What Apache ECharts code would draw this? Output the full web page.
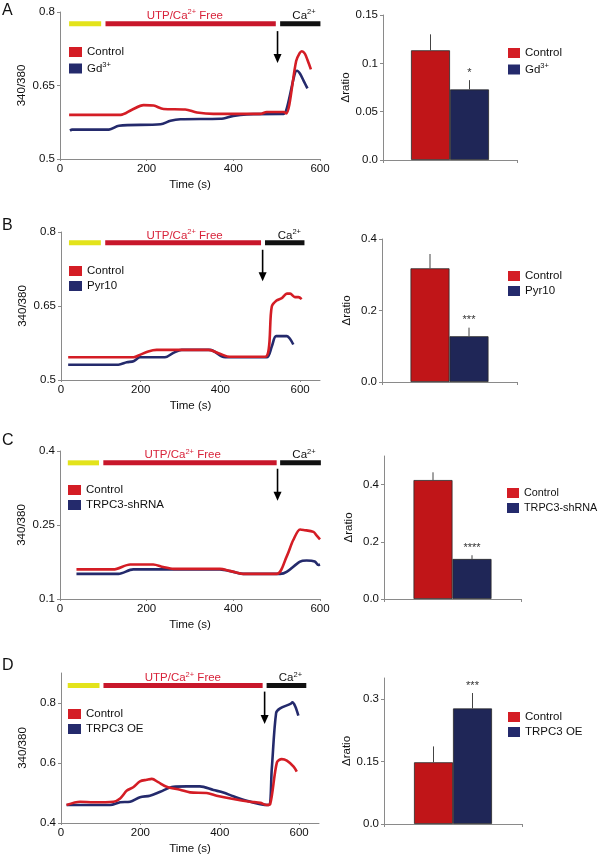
<!DOCTYPE html>
<html><head><meta charset="utf-8">
<script src="https://cdn.jsdelivr.net/npm/echarts@6/dist/echarts.min.js"></script>
<style>html,body{margin:0;padding:0;background:#fff}#c{width:600px;height:856px}</style>
</head><body><div id="c"></div>
<script>
// ---------- DATA ----------
const timeTicks = [0, 200, 400, 600];
const panelLetters = ['A', 'B', 'C', 'D'];
const treatNames = ['Gd3+', 'Pyr10', 'TRPC3-shRNA', 'TRPC3 OE'];

// traces [time (s), 340/380 ratio]
const aControl = [[21,0.590],[140,0.590],[165,0.600],[193,0.610],[216,0.609],[239,0.602],[289,0.601],[316,0.595],[354,0.592],[400,0.592],[462,0.592],[477,0.596],[516,0.596],[522,0.593],[545,0.700],[553,0.716],[558,0.720],[565,0.715],[572,0.700],[579,0.683]];
const aGd = [[23,0.558],[28,0.560],[113,0.560],[136,0.568],[232,0.571],[255,0.578],[278,0.581],[370,0.582],[400,0.588],[431,0.591],[512,0.592],[516,0.592],[543,0.678],[547,0.680],[554,0.674],[562,0.660],[571,0.644]];
const bControl = [[18,0.546],[182,0.546],[198,0.551],[219,0.558],[240,0.561],[370,0.561],[399,0.553],[424,0.547],[512,0.547],[529,0.649],[541,0.661],[554,0.666],[567,0.675],[575,0.675],[587,0.668],[596,0.668],[604,0.664]];
const bPyr = [[18,0.531],[144,0.531],[165,0.536],[182,0.538],[198,0.546],[261,0.546],[282,0.555],[303,0.561],[374,0.561],[403,0.548],[412,0.546],[516,0.546],[529,0.568],[540,0.589],[567,0.589],[575,0.583],[583,0.572]];
const cControl = [[38,0.160],[123,0.160],[162,0.170],[215,0.170],[238,0.165],[262,0.161],[369,0.161],[392,0.157],[423,0.151],[500,0.151],[523,0.186],[538,0.219],[554,0.241],[562,0.240],[585,0.236],[592,0.229],[600,0.221]];
const cShRNA = [[38,0.151],[135,0.151],[169,0.160],[369,0.160],[400,0.155],[423,0.151],[508,0.151],[523,0.155],[554,0.176],[569,0.178],[588,0.176],[596,0.169],[600,0.170]];
const dControl = [[14,0.460],[48,0.471],[82,0.469],[132,0.471],[149,0.482],[166,0.508],[182,0.519],[199,0.539],[216,0.544],[229,0.547],[245,0.536],[266,0.521],[300,0.511],[325,0.502],[367,0.500],[392,0.491],[434,0.480],[476,0.471],[502,0.467],[518,0.460],[527,0.463],[544,0.602],[556,0.613],[569,0.608],[586,0.588],[594,0.571]];
const dOE = [[14,0.460],[124,0.460],[149,0.469],[174,0.471],[199,0.486],[224,0.491],[250,0.504],[283,0.521],[317,0.522],[350,0.522],[384,0.510],[409,0.502],[434,0.489],[468,0.474],[502,0.463],[523,0.460],[531,0.580],[542,0.767],[552,0.782],[578,0.797],[583,0.802],[590,0.789],[598,0.758]];

// protocol segments [start s, end s, level] : baseline, UTP/Ca2+ free, Ca2+
const protoA = [[21,95,0.776],[105,498,0.776],[508,601,0.776]];
const protoB = [[20,100,0.778],[111,502,0.778],[512,611,0.778]];
const protoC = [[18,90,0.376],[100,500,0.376],[508,602,0.376]];
const protoD = [[17,97,0.858],[107,508,0.858],[518,618,0.858]];
// label anchors [time, level] : "UTP/Ca2+ Free", "Ca2+"
const labelPosA = [[288,0.792],[563,0.792]];
const labelPosB = [[310,0.793],[573,0.793]];
const labelPosC = [[283,0.392],[563,0.392]];
const labelPosD = [[307,0.883],[578,0.883]];
// arrow [time, from level, to level]
const arrowA = [[502,0.761,0.696]];
const arrowB = [[506,0.764,0.700]];
const arrowC = [[502,0.364,0.299]];
const arrowD = [[513,0.838,0.730]];

// y ticks of trace panels
const yTicksA = [0.5,0.65,0.8], yTicksB = [0.5,0.65,0.8], yTicksC = [0.1,0.25,0.4], yTicksD = [0.4,0.6,0.8];

// bar charts: Δratio mean and SEM [Control, treatment]
const barMeanA = [0.1135, 0.073], barErrA = [0.0165, 0.0096];
const barMeanB = [0.318, 0.128], barErrB = [0.040, 0.024];
const barMeanC = [0.416, 0.140], barErrC = [0.027, 0.013];
const barMeanD = [0.148, 0.277], barErrD = [0.038, 0.037];
const sigMarks = ['*', '***', '****', '***'];
const barTicksA = [0, 0.05, 0.1, 0.15], barTicksB = [0, 0.2, 0.4], barTicksC = [0, 0.2, 0.4], barTicksD = [0, 0.15, 0.3];

// ---------- STYLE / LAYOUT ----------
const FONT = 'Liberation Sans, Arial, Helvetica, sans-serif';
const FS = 11.5;
const RED_LINE = '#d41d25', BLUE_LINE = '#242a6c';
const RED_BAR = '#c01518', BLUE_BAR = '#1f2657';
const PROTO_COLORS = ['#e3e31b', '#c8172b', '#111111'];
const AXIS_COL = '#8a8a8a';
const BAR_W = 39;

const traces = [[aControl, aGd], [bControl, bPyr], [cControl, cShRNA], [dControl, dOE]];
const protos = [protoA, protoB, protoC, protoD];
const labelPos = [labelPosA, labelPosB, labelPosC, labelPosD];
const arrows = [arrowA, arrowB, arrowC, arrowD];
const yTicks = [yTicksA, yTicksB, yTicksC, yTicksD];
const yRange = [[0.5,0.8],[0.5,0.8],[0.1,0.4],[0.4,0.9]];
const xMax = [600, 650, 600, 650];
const barMeans = [barMeanA, barMeanB, barMeanC, barMeanD];
const barErrs = [barErrA, barErrB, barErrC, barErrD];
const barTicks = [barTicksA, barTicksB, barTicksC, barTicksD];
const barMax = [0.15, 0.4, 0.5, 0.35];

const lineGrids = [
  {left:60, top:12, width:260, height:147},
  {left:61, top:232, width:259, height:148},
  {left:60, top:451, width:260, height:148},
  {left:61, top:673, width:258, height:151}
];
const barGrids = [
  {left:383, top:15, width:134, height:145},
  {left:382, top:239, width:135, height:143},
  {left:384, top:456, width:137, height:143},
  {left:384, top:678, width:138, height:146}
];
const lineLegendPos = [[69,46],[69,265],[68,484],[68,708]];
const barLegendPos = [[508,47],[508,270],[507,487],[508,711]];
const letterPos = [[2,3],[2,218],[2,433],[2,658]];

function richFor(fs) {
  return {
    n: {fontFamily: FONT, fontSize: fs},
    s: {fontFamily: FONT, fontSize: 7.5, padding: [0,0,7,0]}
  };
}
function fmtName(name) {
  if (name === 'Gd3+') return '{n|Gd}{s|3+}';
  return '{n|' + name + '}';
}
function fmtNum(v) { return v === 0 ? '0.0' : String(+v.toFixed(3)); }

const grids = [], xAxes = [], yAxes = [], series = [], legends = [], graphics = [];

for (let p = 0; p < 4; p++) {
  // ---------- trace panel ----------
  const gi = grids.length;
  grids.push(Object.assign({containLabel:false}, lineGrids[p]));
  xAxes.push({
    type:'value', gridIndex:gi, min:0, max:xMax[p],
    name:'Time (s)', nameLocation:'middle', nameGap:20,
    nameTextStyle:{fontFamily:FONT, fontSize:FS, color:'#111'},
    axisLine:{show:true, lineStyle:{color:AXIS_COL, width:1}},
    axisTick:{show:true, length:2, lineStyle:{color:AXIS_COL}, customValues:timeTicks},
    axisLabel:{fontFamily:FONT, fontSize:FS, color:'#111', margin:4, customValues:timeTicks},
    splitLine:{show:false}
  });
  yAxes.push({
    type:'value', gridIndex:gi, min:yRange[p][0], max:yRange[p][1],
    name:'340/380', nameLocation:'middle', nameGap:32, nameRotate:90,
    nameTextStyle:{fontFamily:FONT, fontSize:FS, color:'#111'},
    axisLine:{show:true, lineStyle:{color:AXIS_COL, width:1}},
    axisTick:{show:true, length:3, lineStyle:{color:AXIS_COL}, customValues:yTicks[p]},
    axisLabel:{fontFamily:FONT, fontSize:FS, color:'#111', margin:5, customValues:yTicks[p], formatter:fmtNum},
    splitLine:{show:false}
  });
  const names = ['Control', treatNames[p]];
  const lineCols = [RED_LINE, BLUE_LINE];
  [1, 0].forEach(k => {
    series.push({
      type:'line', name:names[k], xAxisIndex:gi, yAxisIndex:gi,
      data:traces[p][k], showSymbol:false, symbol:'none', smooth:0.3,
      color:lineCols[k], itemStyle:{color:lineCols[k]},
      lineStyle:{color:lineCols[k], width:2.6}, z:3, animation:false
    });
  });
  // protocol segments
  series.push({
    type:'custom', xAxisIndex:gi, yAxisIndex:gi, data:protos[p], clip:false, silent:true,
    encode:{x:[0,1], y:2}, animation:false,
    renderItem:function(params, api){
      const a = api.coord([api.value(0), api.value(2)]);
      const b = api.coord([api.value(1), api.value(2)]);
      return {type:'rect', shape:{x:a[0], y:a[1]-2.5, width:b[0]-a[0], height:5},
              style:{fill:PROTO_COLORS[params.dataIndex]}};
    }
  });
  // protocol labels
  series.push({
    type:'custom', xAxisIndex:gi, yAxisIndex:gi, data:labelPos[p], clip:false, silent:true,
    encode:{x:0, y:1}, animation:false,
    renderItem:function(params, api){
      const c = api.coord([api.value(0), api.value(1)]);
      const isFree = params.dataIndex === 0;
      const col = isFree ? '#d8233a' : '#111';
      return {type:'text', x:c[0], y:c[1], style:{
        text: isFree ? '{n|UTP/Ca}{s|2+}{n| Free}' : '{n|Ca}{s|2+}',
        rich:{n:{fontFamily:FONT, fontSize:FS, fill:col, color:col},
              s:{fontFamily:FONT, fontSize:7.5, fill:col, color:col, padding:[0,0,7,0]}},
        align:'center', verticalAlign:'middle', fill:col
      }};
    }
  });
  // arrow
  series.push({
    type:'custom', xAxisIndex:gi, yAxisIndex:gi, data:arrows[p], clip:false, silent:true,
    encode:{x:0, y:[1,2]}, animation:false,
    renderItem:function(params, api){
      const a = api.coord([api.value(0), api.value(1)]);
      const b = api.coord([api.value(0), api.value(2)]);
      return {type:'group', children:[
        {type:'line', shape:{x1:a[0], y1:a[1], x2:b[0], y2:b[1]-6}, style:{stroke:'#000', lineWidth:1.6}},
        {type:'polygon', shape:{points:[[b[0]-4,b[1]-9],[b[0]+4,b[1]-9],[b[0],b[1]]]}, style:{fill:'#000'}}
      ]};
    }
  });
  legends.push({
    orient:'vertical', left:lineLegendPos[p][0], top:lineLegendPos[p][1], padding:0,
    itemWidth:13, itemHeight:10, itemGap:3, icon:'rect', selectedMode:false,
    data:names, formatter:fmtName,
    textStyle:{fontFamily:FONT, fontSize:FS, color:'#111', lineHeight:12, rich:richFor(FS)}
  });

  // ---------- bar panel ----------
  const bi = grids.length;
  grids.push(Object.assign({containLabel:false}, barGrids[p]));
  xAxes.push({
    type:'category', gridIndex:bi, data:[''],
    axisLine:{show:true, lineStyle:{color:AXIS_COL, width:1}},
    axisTick:{show:true, length:3, lineStyle:{color:AXIS_COL}},
    axisLabel:{show:false}
  });
  yAxes.push({
    type:'value', gridIndex:bi, min:0, max:barMax[p],
    name:'Δratio', nameLocation:'middle', nameGap:29, nameRotate:90,
    nameTextStyle:{fontFamily:FONT, fontSize:FS, color:'#111'},
    axisLine:{show:true, lineStyle:{color:AXIS_COL, width:1}},
    axisTick:{show:true, length:3, lineStyle:{color:AXIS_COL}, customValues:barTicks[p]},
    axisLabel:{fontFamily:FONT, fontSize:FS, color:'#111', margin:5, customValues:barTicks[p], formatter:fmtNum},
    splitLine:{show:false}
  });
  const barCols = [RED_BAR, BLUE_BAR];
  [0, 1].forEach(k => {
    series.push({
      type:'bar', name:names[k], xAxisIndex:bi, yAxisIndex:bi,
      data:[barMeans[p][k]], barWidth:BAR_W, barGap:'0%',
      color:barCols[k],
      itemStyle:{color:barCols[k], borderColor:'#2a2a2a', borderWidth:0.8},
      animation:false
    });
  });
  const errData = barMeans[p].map((m, k) => [0, m, barErrs[p][k]]);
  const sig = sigMarks[p];
  series.push({
    type:'custom', xAxisIndex:bi, yAxisIndex:bi, data:errData, clip:false, silent:true,
    encode:{x:0, y:1}, animation:false, z:5,
    renderItem:function(params, api){
      const base = api.coord([0, api.value(1)]);
      const top = api.coord([0, api.value(1) + api.value(2)]);
      const side = params.dataIndex === 0 ? -1 : 1;
      const x = base[0] + side * BAR_W / 2;
      const ch = [{type:'line', shape:{x1:x, y1:base[1], x2:x, y2:top[1]}, style:{stroke:'#444', lineWidth:1}}];
      if (params.dataIndex === 1) {
        ch.push({type:'text', x:x, y:top[1]-2, style:{text:sig, fontFamily:FONT, fontSize:11, fill:'#333', align:'center', verticalAlign:'bottom'}});
      }
      return {type:'group', children:ch};
    }
  });
  const lfs = treatNames[p].length > 9 ? 10.8 : FS;
  legends.push({
    orient:'vertical', left:barLegendPos[p][0], top:barLegendPos[p][1], padding:0,
    itemWidth:12, itemHeight:10, itemGap:3, icon:'rect', selectedMode:false,
    data:names, formatter:fmtName,
    textStyle:{fontFamily:FONT, fontSize:lfs, color:'#111', lineHeight:12, rich:richFor(lfs)}
  });

  graphics.push({type:'text', left:letterPos[p][0], top:letterPos[p][1],
    style:{text:panelLetters[p], fontFamily:FONT, fontSize:16, fill:'#111'}});
}

const chart = echarts.init(document.getElementById('c'), null, {renderer:'canvas'});
chart.setOption({
  animation:false,
  backgroundColor:'#fff',
  textStyle:{fontFamily:FONT},
  grid:grids, xAxis:xAxes, yAxis:yAxes, series:series, legend:legends, graphic:graphics
});
</script>
</body></html>
